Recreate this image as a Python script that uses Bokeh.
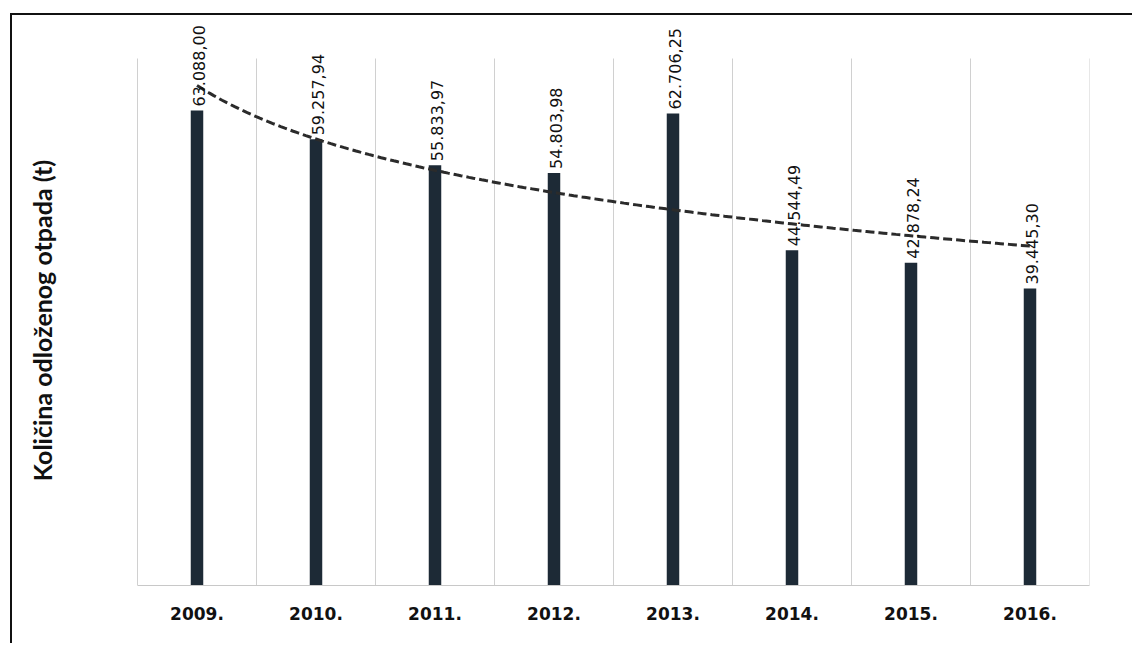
import numpy as np
from bokeh.plotting import figure
from bokeh.models import ColumnDataSource, FixedTicker, Range1d
from bokeh.embed import file_html
from bokeh.resources import INLINE
from bokeh.core.properties import value

# ---- data ----
years = ["2009.", "2010.", "2011.", "2012.", "2013.", "2014.", "2015.", "2016."]
amounts = [63088.00, 59257.94, 55833.97, 54803.98, 62706.25, 44544.49, 42878.24, 39445.30]
amount_labels = ["63.088,00", "59.257,94", "55.833,97", "54.803,98",
                 "62.706,25", "44.544,49", "42.878,24", "39.445,30"]
y_title = "Količina odloženog otpada (t)"
axis_max = 70000  # top of the value axis (where the vertical grid lines end)

xpos = list(range(1, len(years) + 1))
src = ColumnDataSource(dict(x=xpos, y=amounts, lab=amount_labels))

# logarithmic trend line (least squares fit of amounts on ln(x)), as in the original chart
b, a = np.polyfit(np.log(xpos), amounts, 1)
tx = np.linspace(xpos[0], xpos[-1], 200)
ty = a + b * np.log(tx)

# ---- layout (pixels) ----
W, H = 1122, 630
canvas_left, canvas_top = 12, 15          # after css margin + border
plot_left_px, plot_right_px = 137, 1089   # category area
frame_left_px, frame_top_px, frame_bottom_px = 20, 20, 585
unit_px = (plot_right_px - plot_left_px) / len(years)
x_start = 0.5 - (plot_left_px - frame_left_px) / unit_px
x_end = len(years) + 0.5
y_per_px = axis_max / (frame_bottom_px - 58)
y_end = (frame_bottom_px - frame_top_px) * y_per_px

p = figure(width=W, height=H, output_backend="svg", toolbar_location=None,
           x_range=Range1d(x_start, x_end), y_range=Range1d(0, y_end),
           min_border_left=frame_left_px - canvas_left,
           min_border_right=canvas_left + W - plot_right_px,
           min_border_top=frame_top_px - canvas_top,
           min_border_bottom=canvas_top + H - frame_bottom_px)
p.outline_line_color = None
p.background_fill_color = "white"
p.border_fill_color = "white"
p.styles = {"border-left": "2px solid #111", "border-top": "2px solid #111",
            "margin-left": "10px", "margin-top": "13px"}

# vertical grid lines between categories (from axis to axis maximum)
gx = [i + 0.5 for i in range(0, len(years) + 1)]
p.segment(x0=gx, y0=[0] * len(gx), x1=gx, y1=[axis_max] * len(gx),
          line_color="#d0d0d0", line_width=1)

p.vbar(x="x", top="y", width=0.105, source=src, fill_color="#1d2a36", line_color=None)
p.line(tx, ty, line_color="#2b2b2b", line_width=3, line_dash="9 4")

p.text(x="x", y="y", text="lab", source=src, angle=np.pi / 2,
       text_align="left", text_baseline="middle", y_offset=-4, x_offset=2,
       text_font=value("DejaVu Sans"), text_font_size="16px", text_color="#111111")

# value-axis title, drawn vertically in the left margin
title_x = 0.5 - (plot_left_px - 41) / unit_px
title_y = (frame_bottom_px - 320) * y_per_px
p.text(x=[title_x], y=[title_y], text=[y_title], angle=np.pi / 2,
       text_align="center", text_baseline="middle",
       text_font=value("Lato"), text_font_style="bold", text_font_size="25px",
       text_color="#111111")

# x axis (only under the categories)
p.xaxis.bounds = (0.5, len(years) + 0.5)
p.xaxis.ticker = FixedTicker(ticks=xpos)
p.xaxis.major_label_overrides = {i: y for i, y in zip(xpos, years)}
p.xaxis.major_label_text_font = "DejaVu Sans"
p.xaxis.major_label_text_font_style = "bold"
p.xaxis.major_label_text_font_size = "17px"
p.xaxis.major_label_text_color = "#111111"
p.xaxis.major_label_standoff = 15
p.xaxis.axis_line_color = "#c8c8c8"
p.xaxis.major_tick_line_color = None
p.xaxis.minor_tick_line_color = None

p.yaxis.visible = False
p.xgrid.grid_line_color = None
p.ygrid.grid_line_color = None

open("out.html", "w").write(file_html(p, INLINE))
